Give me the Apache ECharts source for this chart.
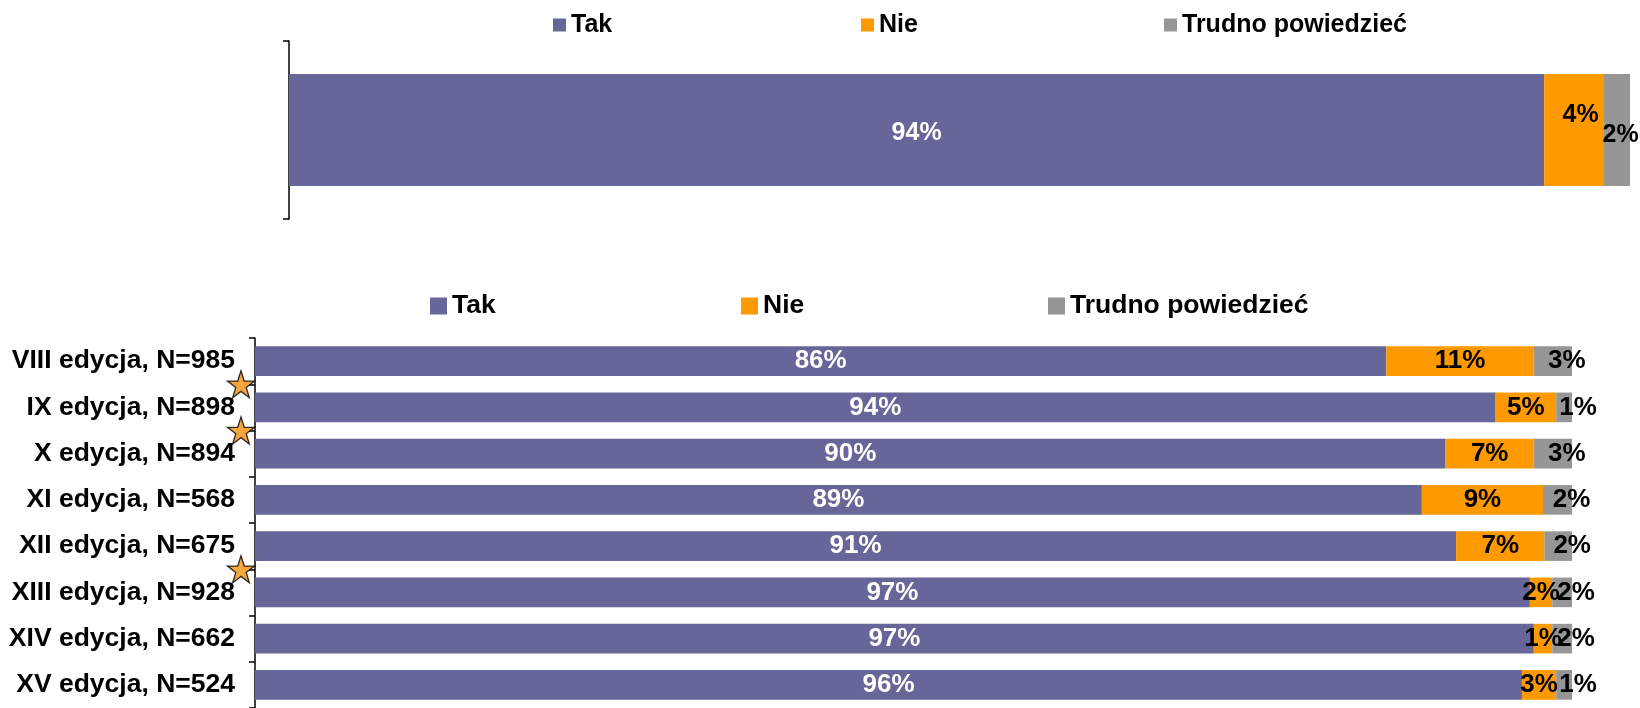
<!DOCTYPE html>
<html>
<head>
<meta charset="utf-8">
<script src="https://cdn.jsdelivr.net/npm/echarts@6/dist/echarts.min.js"></script>
<style>
html,body{margin:0;padding:0;background:#fff;}
#chart{width:1640px;height:708px;}
</style>
</head>
<body>
<div id="chart"></div>
<script>
// ---- data ----
const seriesNames = ['Tak', 'Nie', 'Trudno powiedzieć'];
// top chart (single bar)
const topTak = [93.6];
const topNie = [4.4];
const topTrudno = [2.0];
// bottom chart
const categories = ['VIII edycja, N=985', 'IX edycja, N=898', 'X edycja, N=894', 'XI edycja, N=568',
  'XII edycja, N=675', 'XIII edycja, N=928', 'XIV edycja, N=662', 'XV edycja, N=524'];
const tak = [85.9, 94.2, 90.4, 88.6, 91.2, 96.8, 97.1, 96.2];
const nie = [11.2, 4.6, 6.7, 9.2, 6.7, 1.7, 1.4, 2.6];
const trudno = [2.9, 1.2, 2.9, 2.2, 2.1, 1.5, 1.5, 1.2];
// stars placed on boundaries between editions
const starBoundaries = [1, 2, 5];

// ---- styles ----
const colors = ['#666699', '#FF9900', '#969696'];
const FONT = "'Liberation Sans', Arial, sans-serif";
const fmt = p => Math.round(p.value) + '%';
const lbl = (color, extra) => Object.assign({
  show: true, position: 'inside', formatter: fmt, color: color,
  fontFamily: FONT, fontWeight: 'bold', fontSize: 25
}, extra || {});

function legendItem(name, left, top, size, fs) {
  return {
    data: [name], left: left, top: top, padding: 0, orient: 'horizontal',
    icon: 'rect', itemWidth: size, itemHeight: size, selectedMode: false,
    textStyle: { fontFamily: FONT, fontWeight: 'bold', fontSize: fs, color: '#000', lineHeight: 28 }
  };
}

const starPath = 'path://M50,0 L61.8,35.4 L99,35.4 L68.9,57.3 L80.4,92.7 L50,70.8 L19.6,92.7 L31.1,57.3 L1,35.4 L38.2,35.4 Z';

const option = {
  animation: false,
  color: colors,
  legend: [
    legendItem('Tak', 553, 11, 13, 25),
    legendItem('Nie', 861, 11, 13, 25),
    legendItem('Trudno powiedzieć', 1164, 11, 13, 25),
    legendItem('Tak', 430, 292, 17, 26.5),
    legendItem('Nie', 741, 292, 17, 26.5),
    legendItem('Trudno powiedzieć', 1048, 292, 17, 26.5)
  ],
  grid: [
    { left: 289, right: 10, top: 41, height: 178 },
    { left: 255, right: 68, top: 338, height: 375 }
  ],
  xAxis: [
    { gridIndex: 0, type: 'value', min: 0, max: 100, show: false },
    { gridIndex: 1, type: 'value', min: 0, max: 100, show: false }
  ],
  yAxis: [
    { gridIndex: 0, type: 'category', data: [''], inverse: true,
      axisLine: { show: true, lineStyle: { color: '#000', width: 1.5 } },
      axisTick: { show: true, length: 6, lineStyle: { color: '#000', width: 1.5 } },
      axisLabel: { show: false }, splitLine: { show: false } },
    { gridIndex: 1, type: 'category', data: categories, inverse: true,
      axisLine: { show: true, lineStyle: { color: '#000', width: 1.5 } },
      axisTick: { show: true, length: 6, lineStyle: { color: '#000', width: 1.5 } },
      axisLabel: { show: true, margin: 20, color: '#000', fontFamily: FONT, fontWeight: 'bold', fontSize: 26.5 },
      splitLine: { show: false } },
    { gridIndex: 1, type: 'value', min: 0, max: categories.length, inverse: true, show: false }
  ],
  series: [
    { name: 'Tak', type: 'bar', stack: 'top', xAxisIndex: 0, yAxisIndex: 0, barWidth: '63%',
      data: topTak, label: lbl('#fff', { offset: [0, 3] }) },
    { name: 'Nie', type: 'bar', stack: 'top', xAxisIndex: 0, yAxisIndex: 0, barWidth: '63%',
      data: topNie, label: lbl('#000', { offset: [7, -15] }) },
    { name: 'Trudno powiedzieć', type: 'bar', stack: 'top', xAxisIndex: 0, yAxisIndex: 0, barWidth: '63%',
      data: topTrudno, label: lbl('#000', { offset: [4, 5] }) },

    { name: 'Tak', type: 'bar', stack: 'bottom', xAxisIndex: 1, yAxisIndex: 1, barWidth: '64%',
      data: tak, label: lbl('#fff', { fontSize: 26 }) },
    { name: 'Nie', type: 'bar', stack: 'bottom', xAxisIndex: 1, yAxisIndex: 1, barWidth: '64%',
      data: nie, label: lbl('#000', { fontSize: 26 }) },
    { name: 'Trudno powiedzieć', type: 'bar', stack: 'bottom', xAxisIndex: 1, yAxisIndex: 1, barWidth: '64%',
      data: trudno, label: lbl('#000', { fontSize: 26, offset: [14, 0] }) },

    { name: 'stars', type: 'scatter', xAxisIndex: 1, yAxisIndex: 2, clip: false, z: 10,
      symbol: starPath, symbolSize: 27, symbolOffset: [-14, 0],
      itemStyle: { color: '#F39012', borderColor: '#000', borderWidth: 1.3 },
      data: starBoundaries.map(b => [0, b]), silent: true }
  ]
};

const chart = echarts.init(document.getElementById('chart'), null, { renderer: 'canvas' });
chart.setOption(option);
</script>
</body>
</html>
